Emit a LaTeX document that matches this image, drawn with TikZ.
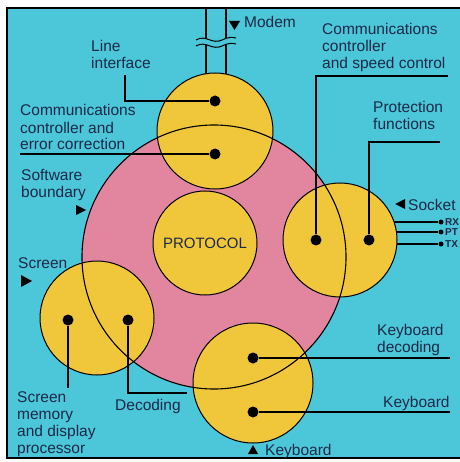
\documentclass[tikz,border=0pt]{standalone}
\usepackage{fontspec}
\setmainfont{Liberation Sans}
\definecolor{sky}{HTML}{4CC6D9}
\definecolor{rose}{HTML}{E286A0}
\definecolor{gold}{HTML}{F0C63A}
\definecolor{ink}{HTML}{1C2A48}
\begin{document}
\begin{tikzpicture}[x=1pt,y=-1pt,
  lbl/.style={text=ink,font=\fontsize{15.5}{17}\selectfont,align=left,inner sep=0pt,anchor=base west},
  tiny/.style={text=ink,font=\fontsize{10}{11}\selectfont\bfseries,inner sep=0pt,anchor=west},
  unit/.style={circle,draw=black,line width=1pt,fill=gold,inner sep=0pt},
  dot/.style={circle,fill=black,minimum size=11pt,inner sep=0pt},
  pin/.style={circle,fill=black,minimum size=5pt,inner sep=0pt},
  lead/.style={draw=black,line width=1.1pt},
  wire/.style={draw=black,line width=1.1pt},
  pointer/.style={fill=black}]
\useasboundingbox (0,0) rectangle (459,462);
\fill[white] (0,0) rectangle (459,462);
% panel
\draw[fill=sky,line width=1.5pt] (7,8) rectangle (470,458);

% modem lines with a break
\coordinate (m1top) at (206,8);
\coordinate (m2top) at (226,8);
\coordinate (m1bot) at (206,90);
\coordinate (m2bot) at (226,90);
\draw[wire] (m1top) -- (m1bot);
\draw[wire] (m2top) -- (m2bot);
\fill[sky] (196,40) .. controls (206,34) and (212,45) .. (222,40) .. controls (228,37) and (232,37) .. (236,38)
  -- (236,44) .. controls (232,43) and (228,43) .. (222,46) .. controls (212,51) and (206,40) .. (196,46) -- cycle;
\draw[line width=1pt] (196,40) .. controls (206,34) and (212,45) .. (222,40) .. controls (228,37) and (232,37) .. (236,38);
\draw[line width=1pt] (196,46) .. controls (206,40) and (212,51) .. (222,46) .. controls (228,43) and (232,43) .. (236,44);

% socket pins
\node[pin] (rx) at (441,222) {};
\node[pin] (pt) at (441,232) {};
\node[pin] (tx) at (441,244) {};
\coordinate (rxin) at (380,222);
\coordinate (ptin) at (380,232);
\coordinate (txin) at (380,244);
\draw[wire] (rxin) -- (rx);
\draw[wire] (ptin) -- (pt);
\draw[wire] (txin) -- (tx);

% software boundary (fill)
\fill[rose] (214,257) circle[radius=132];

% functional units
\node[unit,minimum size=116pt] (line) at (215,131) {};
\node[unit,minimum size=104pt] (proto) at (205,243) {};
\node[unit,minimum size=114pt] (socket) at (340,240) {};
\node[unit,minimum size=114pt] (screen) at (97,318) {};
\node[unit,minimum size=120pt] (kbd) at (253,383) {};
\node[text=ink,font=\fontsize{15}{17}\selectfont,inner sep=0pt] at (proto) {PROTOCOL};

% software boundary (outline over the units)
\draw[line width=1.1pt] (214,257) circle[radius=132];

% function points
\node[dot] (dli) at (215,101) {};
\node[dot] (dec) at (215,154) {};
\node[dot] (dsc) at (316,240) {};
\node[dot] (dpf) at (369,240) {};
\node[dot] (dsm) at (68,320) {};
\node[dot] (dsd) at (128,320) {};
\node[dot] (dkd) at (253,358) {};
\node[dot] (dkb) at (253,412) {};

% leader ends
\coordinate (eli) at (125,75);
\coordinate (eec) at (20,154);
\coordinate (esc) at (448,76);
\coordinate (epf) at (440,142);
\coordinate (esm) at (68,388);
\coordinate (esd) at (187,393);
\coordinate (ekd) at (450,358);
\coordinate (ekb) at (450,412);

\draw[lead] (dli) -| (eli);
\draw[lead] (dec) -- (eec);
\draw[lead] (dsc) |- (esc);
\draw[lead] (dpf) |- (epf);
\draw[lead] (dsm) -- (esm);
\draw[lead] (dsd) |- (esd);
\draw[lead] (dkd) -- (ekd);
\draw[lead] (dkb) -- (ekb);

% labels (base anchor sits on the last line)
\node[lbl] (tli) at (91,69) {Line\\interface};
\node[lbl] (tec) at (20,150) {Communications\\controller and\\error correction};
\node[lbl] (tsb) at (21,197) {Software\\boundary};
\node[lbl] (tsn) at (18,268) {Screen};
\node[lbl] (tsm) at (17,453) {Screen\\memory\\and display\\processor};
\node[lbl] (tdc) at (115,410) {Decoding};
\node[lbl] (tkp) at (265,455) {Keyboard};
\node[lbl] (tkb) at (383,407) {Keyboard};
\node[lbl] (tkd) at (377,352) {Keyboard\\decoding};
\node[lbl] (tpf) at (373,130) {Protection\\functions};
\node[lbl] (tsc) at (322,69) {Communications\\controller\\and speed control};
\node[lbl] (tmo) at (244,28) {Modem};
\node[lbl] (tso) at (408,210) {Socket};
\node[tiny] at (445,222) {RX};
\node[tiny] at (445,232) {PT};
\node[tiny] at (445,244) {TX};

% direction markers
\fill[pointer] (229,21) -- (240,21) -- (234.5,30) -- cycle;
\fill[pointer] (395,204) -- (405,199) -- (405,209) -- cycle;
\fill[pointer] (76,205) -- (86,210) -- (76,215) -- cycle;
\fill[pointer] (21,275) -- (32,281) -- (21,287) -- cycle;
\fill[pointer] (248,454) -- (258,454) -- (253,445) -- cycle;
\end{tikzpicture}
\end{document}
